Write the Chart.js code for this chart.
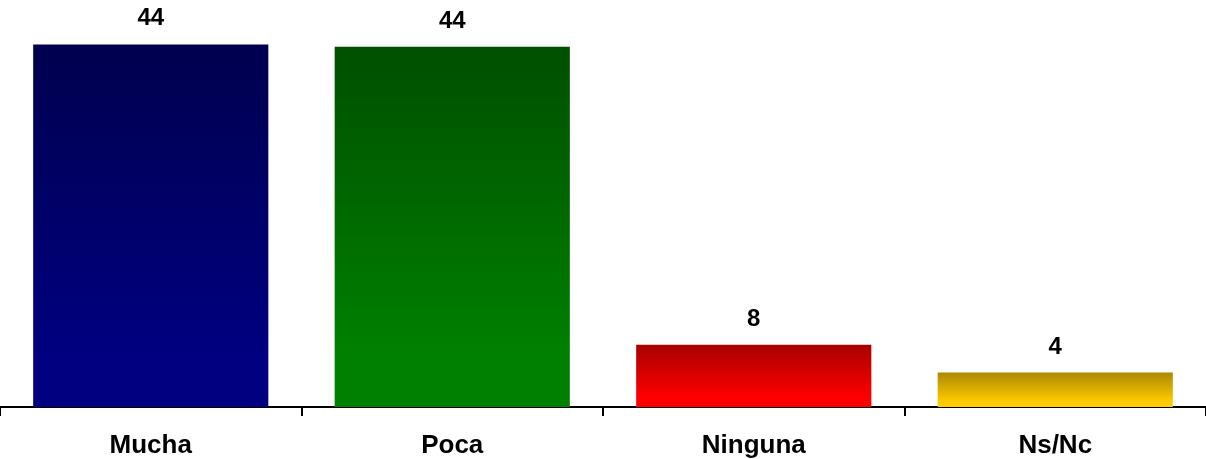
<!DOCTYPE html>
<html>
<head>
<meta charset="utf-8">
<script src="https://cdn.jsdelivr.net/npm/chart.js@4.4.1/dist/chart.umd.min.js"></script>
<style>
  html, body { margin: 0; padding: 0; background: #ffffff; }
  #wrap { width: 1206px; height: 459px; position: relative; }
</style>
</head>
<body>
<div id="wrap"><canvas id="c" width="1206" height="459"></canvas></div>
<script>
const categories = ["Mucha", "Poca", "Ninguna", "Ns/Nc"];
const values = [44.2, 43.9, 7.6, 4.2];
const valueLabels = ["44", "44", "8", "4"];
const topColors = ["#00004E", "#004F00", "#A80000", "#AD8800"];
const bottomColors = ["#000080", "#008000", "#FF0000", "#FFCC00"];

const valueLabelPlugin = {
  id: 'valueLabels',
  afterDatasetsDraw(chart) {
    const ctx = chart.ctx;
    const meta = chart.getDatasetMeta(0);
    ctx.save();
    ctx.font = 'bold 24px "Liberation Sans", Arial, sans-serif';
    ctx.fillStyle = '#000000';
    ctx.textAlign = 'center';
    ctx.textBaseline = 'alphabetic';
    meta.data.forEach((bar, i) => {
      ctx.fillText(valueLabels[i], bar.x, bar.y - 19);
    });
    ctx.restore();
  }
};

new Chart(document.getElementById('c'), {
  type: 'bar',
  data: {
    labels: categories,
    datasets: [{
      data: values,
      backgroundColor: (context) => {
        const chart = context.chart;
        const area = chart.chartArea;
        const i = context.dataIndex;
        if (!area || !chart.scales.y) return bottomColors[i];
        const yTop = chart.scales.y.getPixelForValue(values[i]);
        const yBot = area.bottom;
        const g = chart.ctx.createLinearGradient(0, yTop, 0, yBot);
        g.addColorStop(0, topColors[i]);
        g.addColorStop(0.85, bottomColors[i]);
        g.addColorStop(1, bottomColors[i]);
        return g;
      },
      borderWidth: 0,
      categoryPercentage: 0.78,
      barPercentage: 1.0
    }]
  },
  options: {
    responsive: false,
    animation: false,
    devicePixelRatio: 1,
    layout: { padding: { top: 5, left: 0, right: 0, bottom: 0 } },
    plugins: {
      legend: { display: false },
      tooltip: { enabled: false },
      title: { display: false }
    },
    scales: {
      y: {
        display: false,
        min: 0,
        max: 49
      },
      x: {
        afterFit(scale) { scale.height = 52; },
        grid: {
          display: true,
          offset: true,
          drawOnChartArea: false,
          drawTicks: true,
          tickLength: 9,
          color: '#000000',
          lineWidth: 2
        },
        border: { display: true, color: '#000000', width: 2 },
        ticks: {
          padding: 14,
          color: '#000000',
          font: { family: '"Liberation Sans", Arial, sans-serif', size: 26, weight: 'bold' }
        }
      }
    }
  },
  plugins: [valueLabelPlugin]
});
</script>
</body>
</html>
